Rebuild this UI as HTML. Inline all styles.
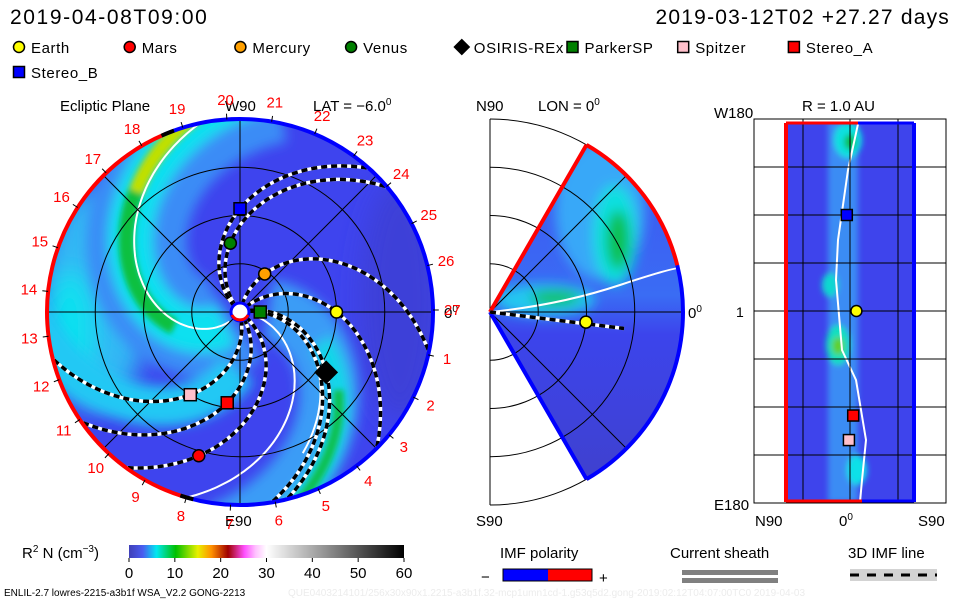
<!DOCTYPE html>
<html><head><meta charset="utf-8">
<style>
html,body{margin:0;padding:0;background:#fff;}
svg{display:block;font-family:"Liberation Sans",sans-serif;}
</style></head>
<body>
<svg id="chart" width="960" height="600" viewBox="0 0 960 600" xmlns="http://www.w3.org/2000/svg">
<defs>
  <clipPath id="discClip"><circle cx="240" cy="312" r="193"/></clipPath>
  <clipPath id="wedgeClip"><path d="M490,312 L586.5,144.9 A193,193 0 0 1 586.5,479.1 Z"/></clipPath>
  <clipPath id="rectClip"><rect x="786" y="122" width="128" height="380"/></clipPath>
  <filter id="blur6" x="-20%" y="-20%" width="140%" height="140%"><feGaussianBlur stdDeviation="6"/></filter>
  <filter id="blur12" x="-30%" y="-30%" width="160%" height="160%"><feGaussianBlur stdDeviation="12"/></filter>
  <filter id="blur3" x="-20%" y="-20%" width="140%" height="140%"><feGaussianBlur stdDeviation="3"/></filter>
  <linearGradient id="cbar" x1="0" x2="1" y1="0" y2="0">
    <stop offset="0" stop-color="#4040b8"/>
    <stop offset="0.05" stop-color="#4a5cf0"/>
    <stop offset="0.1" stop-color="#00e8f0"/>
    <stop offset="0.17" stop-color="#00c000"/>
    <stop offset="0.25" stop-color="#e8f000"/>
    <stop offset="0.3" stop-color="#ff9000"/>
    <stop offset="0.36" stop-color="#a00000"/>
    <stop offset="0.42" stop-color="#ff50ff"/>
    <stop offset="0.46" stop-color="#ffc0ff"/>
    <stop offset="0.5" stop-color="#ffffff"/>
    <stop offset="1" stop-color="#000000"/>
  </linearGradient>
  <linearGradient id="wedgeGrad" x1="0" x2="0" y1="0" y2="1">
    <stop offset="0" stop-color="#3e50f0"/>
    <stop offset="0.45" stop-color="#3a6cf4"/>
    <stop offset="0.55" stop-color="#3c44ec"/>
    <stop offset="1" stop-color="#4040c8"/>
  </linearGradient>
</defs>

<text x="10" y="24" font-size="21" letter-spacing="1.6" fill="#000">2019-04-08T09:00</text>
<text x="950" y="24" font-size="21" letter-spacing="1.2" fill="#000" text-anchor="end">2019-03-12T02 +27.27 days</text>

<g id="legend"></g>

<text x="60" y="111" font-size="15">Ecliptic Plane</text>
<text x="313" y="111" font-size="15">LAT = −6.0<tspan dy="-6" font-size="10">0</tspan></text>
<text x="225" y="111" font-size="15">W90</text>
<text x="225" y="526" font-size="15">E90</text>
<text x="444" y="318" font-size="15">0<tspan dy="-6" font-size="10">0</tspan></text>

<g id="ecliptic"></g>

<text x="476" y="111" font-size="15">N90</text>
<text x="538" y="111" font-size="15">LON = 0<tspan dy="-6" font-size="10">0</tspan></text>
<text x="476" y="526" font-size="15">S90</text>
<text x="688" y="318" font-size="15">0<tspan dy="-6" font-size="10">0</tspan></text>
<g id="meridional"></g>

<text x="802" y="111" font-size="15">R = 1.0 AU</text>
<text x="714" y="118" font-size="15">W180</text>
<text x="714" y="510" font-size="15">E180</text>
<text x="755" y="526" font-size="15">N90</text>
<text x="839" y="526" font-size="15">0<tspan dy="-6" font-size="10">0</tspan></text>
<text x="918" y="526" font-size="15">S90</text>
<text x="736" y="317" font-size="14" fill="#000">1</text>
<g id="radial"></g>

<g>
  <text x="22" y="558" font-size="15">R<tspan dy="-6" font-size="10">2</tspan><tspan dy="6"> N (cm</tspan><tspan dy="-6" font-size="10">−3</tspan><tspan dy="6">)</tspan></text>
  <rect x="129" y="545" width="275" height="13" fill="url(#cbar)"/>
  <g id="cbticks"></g>
</g>

<g>
  <text x="500" y="558" font-size="15">IMF polarity</text>
  <text x="481" y="582" font-size="15">−</text>
  <rect x="503" y="569" width="45" height="12" fill="#0000ff"/>
  <rect x="548" y="569" width="44" height="12" fill="#ff0000"/>
  <rect x="503" y="569" width="89" height="12" fill="none" stroke="#000" stroke-width="1"/>
  <text x="599" y="583" font-size="15">+</text>
</g>
<g>
  <text x="670" y="558" font-size="15">Current sheath</text>
  <rect x="682" y="570" width="96" height="5" fill="#808080"/>
  <rect x="682" y="578" width="96" height="5" fill="#808080"/>
</g>
<g>
  <text x="848" y="558" font-size="15">3D IMF line</text>
  <rect x="850" y="569" width="87" height="12" fill="#d3d3d3"/>
  <line x1="850" y1="575" x2="937" y2="575" stroke="#000" stroke-width="3" stroke-dasharray="9,8"/>
</g>
<text x="4" y="596" font-size="10" fill="#000">ENLIL-2.7 lowres-2215-a3b1f WSA_V2.2 GONG-2213</text>
<text x="288" y="596" font-size="10" fill="#ececec">QUE0403214101/256x30x90x1.2215-a3b1f.32-mcp1umn1cd-1.g53q5d2.gong-2019:02:12T04:07:00TC0    2019-04-03</text>

<script>
// ---- data ----
const planetNames = ["Earth","Mars","Mercury","Venus","OSIRIS-REx","ParkerSP","Spitzer","Stereo_A","Stereo_B"];
const planetColors = ["#ffff00","#ff0000","#ffa000","#008000","#000000","#008000","#ffc0cb","#ff0000","#0000ff"];
const planetShapes = ["circle","circle","circle","circle","diamond","square","square","square","square"];
const planetRadiusAU = [1.0, 1.55, 0.47, 0.72, 1.09, 0.21, 1.0, 0.95, 1.07];
const planetLonDeg = [0, -106, 57, 98, -35, 0, -121, -98, 90];
const planetLatDeg = [-6, 0, 0, 0, 0, 0, 1, -3, 3];
const fieldLinePlanets = ["Earth","Mars","Mercury","Venus","OSIRIS-REx","ParkerSP","Spitzer","Stereo_A","Stereo_B"];
const rightPanelPlanets = ["Earth","Stereo_A","Spitzer","Stereo_B"];
const cbTicks = [0,10,20,30,40,50,60];
const rotationLabels = [1,2,3,4,5,6,7,8,9,10,11,12,13,14,15,16,17,18,19,20,21,22,23,24,25,26,27];

const NS = "http://www.w3.org/2000/svg";
function mk(tag, attrs, parent){const e=document.createElementNS(NS,tag);for(const k in attrs)e.setAttribute(k,attrs[k]);if(parent)parent.appendChild(e);return e;}

// ---- axes ----
const CX=240, CY=312, AU=96.5, RMAX=2;
function ex(r,th){return CX + r*AU*Math.cos(th*Math.PI/180);}
function ey(r,th){return CY - r*AU*Math.sin(th*Math.PI/180);}
const MX=490, MY=312;
function mx(r,lat){return MX + r*AU*Math.cos(lat*Math.PI/180);}
function my(r,lat){return MY - r*AU*Math.sin(lat*Math.PI/180);}
function rx(lat){return 850 - lat*(96/90);}
function ry(lon){return 311 - lon*(192/180);}
const cbx = v => 129 + v*(275/60);

function marker(parent, shape, color, x, y, s, name){
  let e;
  if(shape==="circle") e=mk("circle",{cx:x,cy:y,r:s,fill:color,stroke:"#000","stroke-width":1.5},parent);
  else if(shape==="square") e=mk("rect",{x:x-s,y:y-s,width:2*s,height:2*s,fill:color,stroke:"#000","stroke-width":1.5},parent);
  else e=mk("polygon",{points:`${x},${y-s*1.4} ${x+s*1.4},${y} ${x},${y+s*1.4} ${x-s*1.4},${y}`,fill:color,stroke:"#000","stroke-width":1},parent);
  
  
  return e;
}

// ---- legend ----
const lg=document.getElementById("legend");
planetNames.forEach((n,i)=>{
  const col = i<8 ? i : 0, row = i<8?0:1;
  const x = 19 + col*110.7, y = 47 + row*25;
  marker(lg, planetShapes[i], planetColors[i], x, y, 5.5, 'legend-marker-'+n.toLowerCase());
  const t=mk("text",{x:x+12,y:y+6,"font-size":15,"letter-spacing":0.6},lg); t.textContent=n;
  
  
});

// ---- ecliptic panel ----
const eg=document.getElementById("ecliptic");
const K=45;
function spiralPath(fx,fy,th0,r0,r1,k){let d="";for(let r=r0;r<=r1+1e-6;r+=0.02){const th=th0-k*r;d+=(d?"L":"M")+fx(r,th).toFixed(1)+","+fy(r,th).toFixed(1);}return d;}
const bg=mk("g",{"clip-path":"url(#discClip)"},eg);
mk("circle",{cx:CX,cy:CY,r:193,fill:"#3e44ee"},bg);
const bw=mk("g",{filter:"url(#blur12)"},bg);
mk("ellipse",{cx:95,cy:300,rx:55,ry:110,fill:"#30b8f4"},bw);
mk("ellipse",{cx:70,cy:330,rx:25,ry:60,fill:"#10e0f0"},bw);
mk("ellipse",{cx:400,cy:300,rx:40,ry:120,fill:"#3c40d8"},bw);
const bl=mk("g",{filter:"url(#blur6)"},bg);
mk("path",{d:spiralPath(ex,ey,230,0.1,2.3,65),stroke:"#3a8cf6","stroke-width":100,fill:"none"},bl);
mk("path",{d:spiralPath(ex,ey,300,0.6,2.3,55),stroke:"#20c8f4","stroke-width":40,fill:"none"},bl);
mk("path",{d:spiralPath(ex,ey,235,0.2,2.3,65),stroke:"#10e0f0","stroke-width":45,fill:"none"},bl);
mk("path",{d:spiralPath(ex,ey,20,0.3,2.3,50),stroke:"#3a9cf6","stroke-width":60,fill:"none"},bl);
mk("path",{d:spiralPath(ex,ey,20,0.9,2.3,45),stroke:"#10d8e8","stroke-width":22,fill:"none"},bl);
const bl2=mk("g",{filter:"url(#blur3)"},bg);
mk("path",{d:spiralPath(ex,ey,238,0.7,2.3,65),stroke:"#10c040","stroke-width":16,fill:"none"},bl2);
mk("path",{d:spiralPath(ex,ey,238,1.65,2.3,65),stroke:"#c0e000","stroke-width":14,fill:"none"},bl2);
mk("path",{d:spiralPath(ex,ey,20,1.3,2.3,45),stroke:"#10c050","stroke-width":10,fill:"none"},bl2);
// current sheath white lines
mk("path",{d:spiralPath(ex,ey,232,0.15,2.2,65),stroke:"#fff","stroke-width":2,fill:"none"},bg);
mk("path",{d:spiralPath(ex,ey,-6,0.15,2.2,50),stroke:"#fff","stroke-width":2,fill:"none"},bg);
mk("path",{d:spiralPath(ex,ey,14,0.3,1.6,50),stroke:"#fff","stroke-width":2,fill:"none"},bg);
// grid
[0.5,1,1.5].forEach(r=>mk("circle",{cx:CX,cy:CY,r:r*AU,fill:"none",stroke:"#000","stroke-width":1},eg));
[0,45,90,135].forEach(a=>mk("line",{x1:ex(2,a),y1:ey(2,a),x2:ex(2,a+180),y2:ey(2,a+180),stroke:"#000","stroke-width":1},eg));
// field lines
const fl=mk("g",{"clip-path":"url(#discClip)"},eg);
fieldLinePlanets.forEach(n=>{
  const i=planetNames.indexOf(n);
  const th0=planetLonDeg[i]+K*planetRadiusAU[i];
  const d=spiralPath(ex,ey,th0,0.08,2.1,K);
  mk("path",{d,stroke:"#fff","stroke-width":3.5,fill:"none"},fl);
  const p=mk("path",{d,stroke:"#000","stroke-width":3.5,fill:"none","stroke-dasharray":"6,4"},fl);
  
  
});
// rim
function arc(a0,a1,col){const d=`M${ex(2,a0)},${ey(2,a0)} A193,193 0 ${Math.abs(a1-a0)>180?1:0} 0 ${ex(2,a1)},${ey(2,a1)}`;return mk("path",{d,stroke:col,"stroke-width":4,fill:"none"},eg);}
arc(-106,113,"#0000ff"); arc(113,254,"#ff0000");
arc(110,114,"#000"); arc(252,256,"#000");
// rotation labels
rotationLabels.forEach(k=>{
  const a=-13.33*k+0.5;
  mk("line",{x1:ex(2,a),y1:ey(2,a),x2:ex(2.06,a),y2:ey(2.06,a),stroke:"#000","stroke-width":1},eg);
  const t=mk("text",{x:ex(2.2,a),y:ey(2.2,a)+5,"font-size":15,fill:"#ff0000","text-anchor":"middle"},eg);
  t.textContent=k;
  
  
});
// sun
mk("circle",{cx:CX,cy:CY,r:9,fill:"#fff",stroke:"#0000ff","stroke-width":3},eg);
mk("path",{d:`M${CX-8},${CY+3} A9,9 0 0 0 ${CX+8},${CY+3}`,stroke:"#ff0000","stroke-width":3,fill:"none"},eg);
// planets
planetNames.forEach((n,i)=>{
  marker(eg, planetShapes[i], planetColors[i], ex(planetRadiusAU[i],planetLonDeg[i]), ey(planetRadiusAU[i],planetLonDeg[i]), planetShapes[i]==="diamond"?8:6, 'ecliptic-'+n.toLowerCase());
});

// ---- meridional panel ----
const mg=document.getElementById("meridional");
[0.5,1,1.5,2].forEach(r=>mk("path",{d:`M${MX},${MY-r*AU} A${r*AU},${r*AU} 0 0 1 ${MX},${MY+r*AU}`,fill:"none",stroke:"#000","stroke-width":1},mg));
mk("line",{x1:MX,y1:MY-193,x2:MX,y2:MY+193,stroke:"#000"},mg);
const wg=mk("g",{"clip-path":"url(#wedgeClip)"},mg);
mk("rect",{x:490,y:120,width:200,height:390,fill:"url(#wedgeGrad)"},wg);
const wb=mk("g",{filter:"url(#blur6)"},wg);
mk("ellipse",{cx:600,cy:210,rx:45,ry:70,fill:"#38a8f8"},wb);
mk("ellipse",{cx:615,cy:235,rx:22,ry:50,fill:"#10e0e0"},wb);
mk("ellipse",{cx:618,cy:240,rx:12,ry:30,fill:"#10c050"},wb);
mk("ellipse",{cx:545,cy:300,rx:50,ry:16,fill:"#20c8f0"},wb);
mk("ellipse",{cx:555,cy:298,rx:25,ry:7,fill:"#10c040"},wb);
mk("path",{d:`M${MX},${MY} Q560,305 620,285 T684,268`,stroke:"#fff","stroke-width":2,fill:"none"},wg);
[0.5,1,1.5].forEach(r=>mk("path",{d:`M${mx(r,60)},${my(r,60)} A${r*AU},${r*AU} 0 0 1 ${mx(r,-60)},${my(r,-60)}`,fill:"none",stroke:"#000","stroke-width":1},mg));
[45,0,-45].forEach(a=>mk("line",{x1:MX,y1:MY,x2:mx(2,a),y2:my(2,a),stroke:"#000"},mg));
mk("path",{d:`M${mx(2,60)},${my(2,60)} L${MX},${MY}`,stroke:"#ff0000","stroke-width":4,fill:"none"},mg);
mk("path",{d:`M${MX},${MY} L${mx(2,-60)},${my(2,-60)}`,stroke:"#0000ff","stroke-width":4,fill:"none"},mg);
mk("path",{d:`M${mx(2,60)},${my(2,60)} A193,193 0 0 1 ${mx(2,14)},${my(2,14)}`,stroke:"#ff0000","stroke-width":4,fill:"none"},mg);
mk("path",{d:`M${mx(2,14)},${my(2,14)} A193,193 0 0 1 ${mx(2,-60)},${my(2,-60)}`,stroke:"#0000ff","stroke-width":4,fill:"none"},mg);
{
  const i=0, r=planetRadiusAU[i], lat=planetLatDeg[i];
  const d=`M${MX},${MY} L${mx(1.4,lat-1)},${my(1.4,lat-1)}`;
  mk("path",{d,stroke:"#fff","stroke-width":3.5},mg);
  mk("path",{d,stroke:"#000","stroke-width":3.5,"stroke-dasharray":"6,4"},mg);
  marker(mg,"circle",planetColors[i],mx(r,lat),my(r,lat),6,'meridional-earth');
}

// ---- radial panel ----
const rg=document.getElementById("radial");
mk("rect",{x:754,y:119,width:192,height:384,fill:"#fff",stroke:"#000"},rg);
const rcg=mk("g",{"clip-path":"url(#rectClip)"},rg);
mk("rect",{x:786,y:122,width:128,height:380,fill:"#3e44ec"},rcg);
const rb=mk("g",{filter:"url(#blur3)"},rcg);
mk("rect",{x:828,y:122,width:30,height:380,fill:"#3a8cf4"},rb);
mk("ellipse",{cx:848,cy:140,rx:14,ry:18,fill:"#10e0e0"},rb);
mk("ellipse",{cx:850,cy:142,rx:6,ry:8,fill:"#10c050"},rb);
mk("ellipse",{cx:838,cy:345,rx:12,ry:20,fill:"#10e0c0"},rb);
mk("ellipse",{cx:838,cy:346,rx:6,ry:9,fill:"#60d020"},rb);
mk("ellipse",{cx:830,cy:285,rx:8,ry:12,fill:"#10d8d0"},rb);
mk("ellipse",{cx:857,cy:470,rx:10,ry:15,fill:"#10e0e8"},rb);
mk("path",{d:"M858,124 L848,170 L838,240 L836,280 L842,350 L856,380 L866,440 L862,480 L860,502",stroke:"#fff","stroke-width":2,fill:"none"},rcg);
[803,850,898].forEach(x=>mk("line",{x1:x,y1:119,x2:x,y2:503,stroke:"#000"},rg));
[167,215,263,311,359,407,455].forEach(y=>mk("line",{x1:754,y1:y,x2:946,y2:y,stroke:"#000"},rg));
mk("line",{x1:786,y1:123,x2:786,y2:502,stroke:"#ff0000","stroke-width":4},rg);
mk("line",{x1:914,y1:123,x2:914,y2:502,stroke:"#0000ff","stroke-width":4},rg);
mk("line",{x1:786,y1:123,x2:858,y2:123,stroke:"#ff0000","stroke-width":3},rg);
mk("line",{x1:858,y1:123,x2:914,y2:123,stroke:"#0000ff","stroke-width":3},rg);
mk("line",{x1:786,y1:501,x2:862,y2:501,stroke:"#ff0000","stroke-width":3},rg);
mk("line",{x1:862,y1:501,x2:914,y2:501,stroke:"#0000ff","stroke-width":3},rg);
rightPanelPlanets.forEach(n=>{
  const i=planetNames.indexOf(n);
  marker(rg,planetShapes[i],planetColors[i],rx(planetLatDeg[i]),ry(planetLonDeg[i]),5.5,'radial-'+n.toLowerCase());
});

// ---- colorbar ticks ----
const cb=document.getElementById("cbticks");
cbTicks.forEach(v=>{
  mk("line",{x1:cbx(v),y1:558,x2:cbx(v),y2:562,stroke:"#000"},cb);
  const t=mk("text",{x:cbx(v),y:578,"font-size":15,"text-anchor":"middle"},cb);
  t.textContent=v;
  
  
});
</script>
</svg>
</body></html>
